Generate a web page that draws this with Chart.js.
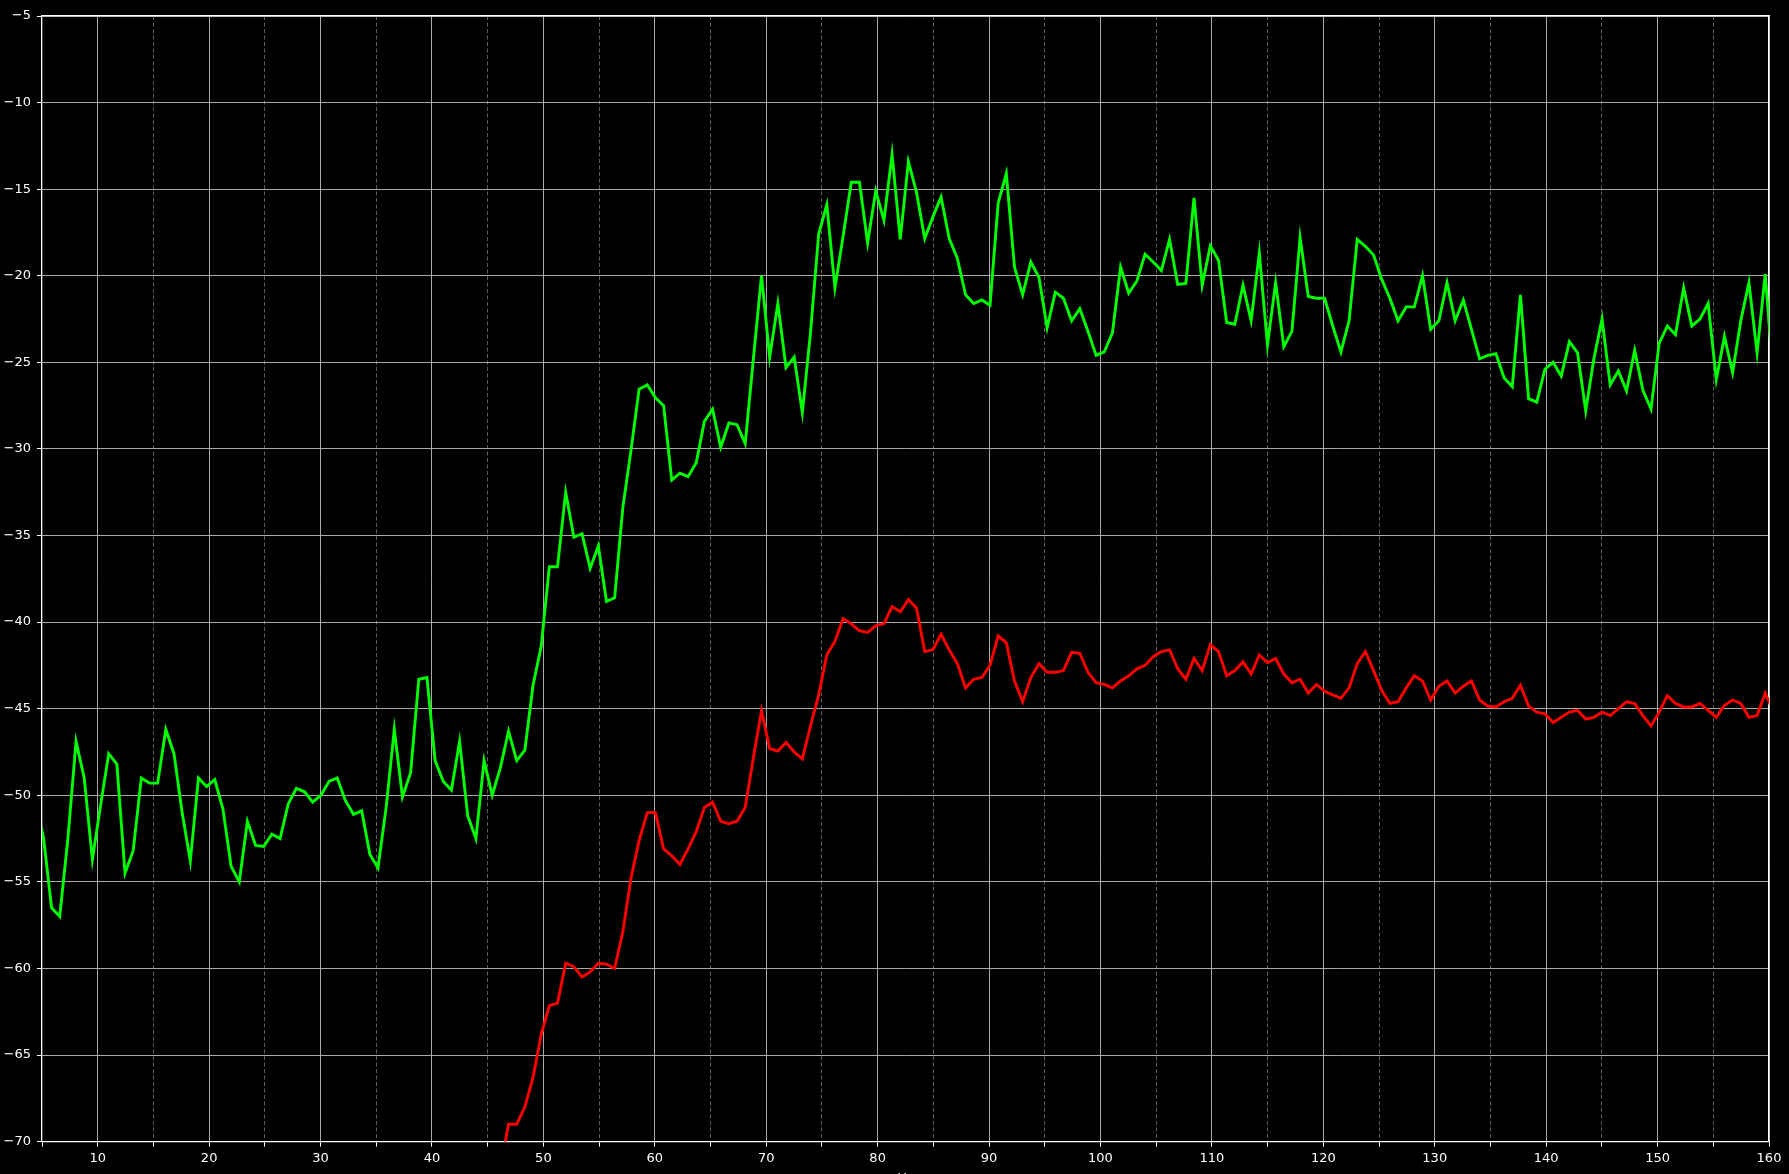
<!DOCTYPE html>
<html>
<head>
<meta charset="utf-8">
<script src="https://cdn.jsdelivr.net/npm/chart.js@4/dist/chart.umd.min.js"></script>
<style>
  html, body { margin: 0; padding: 0; background: #000; overflow: hidden; }
  .wrap { width: 1789px; height: 1174px; position: relative; }
</style>
</head>
<body>
<div class="wrap"><canvas id="myChart"></canvas></div>
<script>
// spectrum bins: bin k sits at k * binHz
const binHz = 0.7324;
const greenFirstBin = 6;
const redFirstBin = 63;

const xTicks = { min: 5, max: 160, step: 5 };
const yTicks = { min: -70, max: -5, step: 5 };

// green trace, bins 6..219 (dB)
const greenValues = [
  -50.5, -52.4, -56.5, -57.0, -52.5, -46.9, -49.0, -53.7, -50.6, -47.6,
  -48.2, -54.5, -53.2, -49.0, -49.3, -49.3, -46.2, -47.6, -51.0, -53.8,
  -49.0, -49.5, -49.1, -50.8, -54.1, -55.0, -51.5, -52.9, -52.95, -52.25,
  -52.5, -50.5, -49.6, -49.8, -50.4, -50.0, -49.2, -49.0, -50.3, -51.1,
  -50.9, -53.4, -54.2, -50.7, -46.2, -50.1, -48.7, -43.3, -43.2, -48.0,
  -49.2, -49.7, -46.9, -51.2, -52.5, -48.0, -50.0, -48.4, -46.3, -48.0,
  -47.4, -43.65, -41.4, -36.8, -36.8, -32.5, -35.1, -34.9, -36.9, -35.6,
  -38.8, -38.6, -33.4, -30.1, -26.55, -26.3, -27.05, -27.5, -31.8, -31.4,
  -31.6, -30.8, -28.4, -27.7, -29.9, -28.5, -28.6, -29.7, -24.8, -20.0,
  -24.7, -21.6, -25.3, -24.7, -27.9, -23.3, -17.6, -15.9, -20.7, -17.7,
  -14.6, -14.6, -18.1, -15.1, -16.8, -13.0, -17.9, -13.4, -15.2, -17.85,
  -16.6, -15.45, -17.85, -19.0, -21.1, -21.6, -21.4, -21.7, -15.8, -14.1,
  -19.5, -21.1, -19.2, -20.1, -23.0, -20.95, -21.3, -22.6, -21.9, -23.2,
  -24.6, -24.4, -23.3, -19.5, -21.0, -20.3, -18.75, -19.2, -19.7, -17.9,
  -20.5, -20.45, -15.5, -20.55, -18.27, -19.1, -22.7, -22.8, -20.55, -22.6,
  -18.7, -24.0, -20.4, -24.1, -23.2, -17.8, -21.2, -21.3, -21.3, -22.9,
  -24.4, -22.6, -17.9, -18.3, -18.8, -20.2, -21.3, -22.6, -21.8, -21.8,
  -20.0, -23.1, -22.6, -20.4, -22.6, -21.4, -23.1, -24.8, -24.6, -24.5,
  -25.9, -26.4, -21.1, -27.1, -27.3, -25.4, -25.0, -25.8, -23.8, -24.45,
  -27.8, -24.8, -22.5, -26.3, -25.5, -26.65, -24.3, -26.6, -27.7, -23.9,
  -22.9, -23.4, -20.7, -22.9, -22.5, -21.6, -26.0, -23.5, -25.6, -22.6,
  -20.4, -24.45, -19.9, -26.0
];

// red trace, bins 63..219 (dB)
const redValues = [
  -71.5, -69.0, -69.0, -68.0, -66.3, -63.8, -62.15, -62.0, -59.7, -59.9,
  -60.5, -60.2, -59.7, -59.75, -60.0, -57.9, -54.8, -52.6, -51.0, -51.0,
  -53.1, -53.5, -54.0, -53.1, -52.1, -50.7, -50.4, -51.5, -51.65, -51.5,
  -50.7, -47.85, -45.1, -47.3, -47.45, -46.95, -47.5, -47.9, -46.0, -44.2,
  -41.9, -41.1, -39.8, -40.1, -40.5, -40.6, -40.2, -40.1, -39.1, -39.4,
  -38.7, -39.2, -41.7, -41.6, -40.7, -41.6, -42.4, -43.8, -43.3, -43.2,
  -42.5, -40.8, -41.2, -43.4, -44.6, -43.2, -42.4, -42.9, -42.9, -42.8,
  -41.75, -41.8, -42.9, -43.5, -43.6, -43.8, -43.4, -43.1, -42.7, -42.5,
  -42.0, -41.7, -41.6, -42.7, -43.3, -42.1, -42.8, -41.3, -41.7, -43.1,
  -42.8, -42.3, -43.0, -41.9, -42.35, -42.1, -43.0, -43.5, -43.3, -44.1,
  -43.6, -44.0, -44.2, -44.4, -43.8, -42.4, -41.7, -42.8, -43.95, -44.7,
  -44.6, -43.8, -43.1, -43.4, -44.5, -43.7, -43.4, -44.1, -43.7, -43.4,
  -44.5, -44.85, -44.9, -44.6, -44.4, -43.65, -44.85, -45.2, -45.3, -45.8,
  -45.5, -45.2, -45.1, -45.6, -45.5, -45.2, -45.4, -45.0, -44.6, -44.7,
  -45.4, -46.0, -45.2, -44.25, -44.7, -44.9, -44.9, -44.7, -45.1, -45.5,
  -44.8, -44.5, -44.7, -45.5, -45.4, -44.1, -45.2
];

function toPoints(values, firstBin) {
  return values.map((v, i) => ({ x: (firstBin + i) * binHz, y: v }));
}

const fontSpec = { family: "'DejaVu Sans', sans-serif", size: 13 };
const majorGrid = "#a9a9a9";
const minorGrid = "#5e5e5e";
const spine = "#ffffff";

const ctx = document.getElementById("myChart").getContext("2d");
const chartObj = {
  type: "line",
  data: {
    datasets: [
      {
        label: "green",
        data: toPoints(greenValues, greenFirstBin),
        borderColor: "#00ff00",
        borderWidth: 2.9,
        pointRadius: 0,
        tension: 0,
        clip: 0,
      },
      {
        label: "red",
        data: toPoints(redValues, redFirstBin),
        borderColor: "#ff0000",
        borderWidth: 2.9,
        pointRadius: 0,
        tension: 0,
        clip: 0,
      },
    ],
  },
  options: {
    responsive: true,
    maintainAspectRatio: false,
    animation: false,
    events: [],
    layout: { padding: { top: 16, right: 20, left: 0, bottom: 0 } },
    plugins: { legend: { display: false }, tooltip: { enabled: false } },
    scales: {
      x: {
        type: "linear",
        position: "bottom",
        min: xTicks.min,
        max: xTicks.max,
        afterFit: (scale) => { scale.height = 32.4; },
        ticks: {
          stepSize: xTicks.step,
          autoSkip: false,
          maxRotation: 0,
          padding: 4,
          color: "#ffffff",
          font: fontSpec,
          callback: (v) => (v % 10 === 0 ? String(v) : ""),
        },
        grid: {
          color: (c) => (c.tick && c.tick.value % 10 === 0 ? majorGrid : "rgba(0,0,0,0)"),
          lineWidth: 1,
          tickColor: spine,
          tickLength: 5,
        },
        border: { display: true, color: spine, width: 1.3 },
        title: {
          display: true,
          text: "Hz",
          color: "#ffffff",
          font: fontSpec,
          padding: { top: 0, bottom: -12.5 },
        },
      },
      xMinor: {
        type: "linear",
        position: "bottom",
        min: xTicks.min,
        max: xTicks.max,
        afterFit: (scale) => { scale.height = 0; },
        ticks: { stepSize: xTicks.step, display: false, autoSkip: false },
        grid: {
          color: (c) => (c.tick && c.tick.value % 10 !== 0 && c.tick.value !== xTicks.min ? minorGrid : "rgba(0,0,0,0)"),
          lineWidth: 1,
          drawTicks: false,
        },
        border: { display: false, dash: [4, 2.5] },
      },
      xTop: {
        type: "linear",
        position: "top",
        min: xTicks.min,
        max: xTicks.max,
        afterFit: (scale) => { scale.height = 0; },
        ticks: { display: false },
        grid: { display: false, drawTicks: false },
        border: { display: true, color: spine, width: 1.3 },
      },
      y: {
        type: "linear",
        position: "left",
        min: yTicks.min,
        max: yTicks.max,
        afterFit: (scale) => { scale.width = 42; },
        ticks: {
          stepSize: yTicks.step,
          autoSkip: false,
          padding: 6,
          color: "#ffffff",
          font: fontSpec,
          callback: (v) => String(v).replace("-", "\u2212"),
        },
        grid: {
          color: majorGrid,
          lineWidth: 1,
          tickColor: spine,
          tickLength: 5,
        },
        border: { display: true, color: spine, width: 1.3 },
      },
      yRight: {
        type: "linear",
        position: "right",
        min: yTicks.min,
        max: yTicks.max,
        afterFit: (scale) => { scale.width = 0; },
        ticks: { display: false },
        grid: { display: false, drawTicks: false },
        border: { display: true, color: spine, width: 1.3 },
      },
    },
  },
};
const myChart = new Chart(ctx, chartObj);
</script>
</body>
</html>
